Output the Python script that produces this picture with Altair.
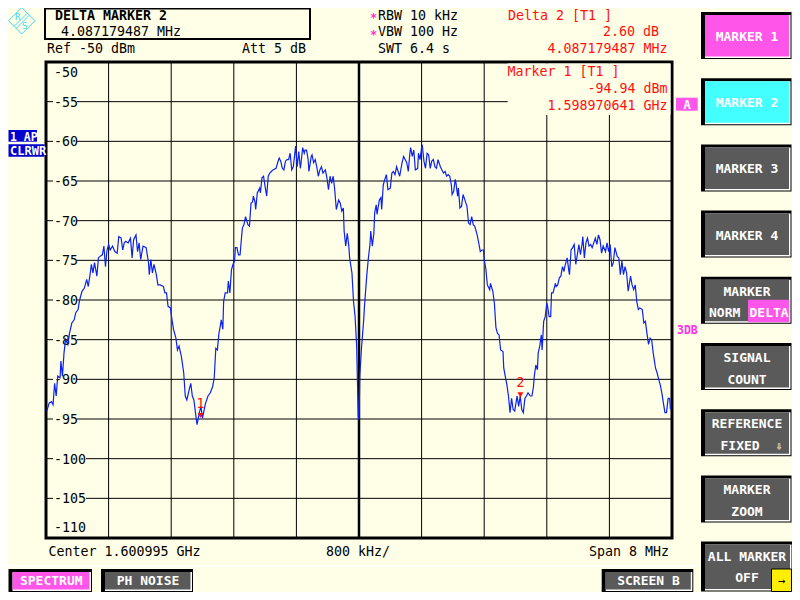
import altair as alt
import pandas as pd

# ---- data ----
# frequency offset from centre (MHz) and level (dBm) of trace 1
trace_freq = [
    -3.99, -3.96, -3.93, -3.91, -3.89, -3.87, -3.85, -3.82, -3.81, -3.79, -3.77, -3.75, -3.72, -3.70,
    -3.67, -3.64, -3.62, -3.59, -3.57, -3.54, -3.51, -3.48, -3.46, -3.44, -3.42, -3.40, -3.38, -3.35,
    -3.33, -3.31, -3.28, -3.26, -3.24, -3.22, -3.20, -3.18, -3.15, -3.12, -3.09, -3.07, -3.04, -3.02,
    -3.00, -2.98, -2.95, -2.92, -2.90, -2.88, -2.85, -2.83, -2.81, -2.79, -2.76, -2.72, -2.69, -2.68,
    -2.66, -2.64, -2.62, -2.59, -2.57, -2.54, -2.50, -2.48, -2.46, -2.44, -2.41, -2.39, -2.37, -2.34,
    -2.32, -2.30, -2.27, -2.24, -2.22, -2.20, -2.17, -2.15, -2.13, -2.11, -2.09, -2.07, -2.04, -2.02,
    -2.00, -1.97, -1.96, -1.93, -1.90, -1.87, -1.85, -1.84, -1.83, -1.81, -1.79, -1.78, -1.76, -1.74,
    -1.73, -1.71, -1.68, -1.67, -1.65, -1.63, -1.61, -1.59, -1.58, -1.56, -1.54, -1.52, -1.50, -1.49,
    -1.47, -1.45, -1.42, -1.40, -1.38, -1.36, -1.35, -1.33, -1.32, -1.30, -1.27, -1.26, -1.24, -1.22,
    -1.20, -1.18, -1.16, -1.14, -1.12, -1.10, -1.06, -1.04, -1.02, -1.00, -0.98, -0.96, -0.94, -0.92,
    -0.90, -0.88, -0.86, -0.84, -0.82, -0.81, -0.79, -0.77, -0.75, -0.74, -0.72, -0.70, -0.69, -0.67,
    -0.65, -0.64, -0.61, -0.60, -0.58, -0.56, -0.54, -0.52, -0.50, -0.48, -0.46, -0.43, -0.41, -0.39,
    -0.37, -0.35, -0.33, -0.31, -0.29, -0.26, -0.24, -0.22, -0.20, -0.19, -0.17, -0.15, -0.13, -0.12,
    -0.09, -0.07, -0.05, -0.03, -0.01, 0.00, 0.01, 0.03, 0.06, 0.07, 0.10, 0.12, 0.14,
    0.15, 0.17, 0.19, 0.20, 0.22, 0.23, 0.26, 0.28, 0.29, 0.31, 0.33, 0.35, 0.37, 0.40,
    0.42, 0.44, 0.46, 0.48, 0.50, 0.52, 0.55, 0.57, 0.59, 0.61, 0.63, 0.65, 0.66, 0.68,
    0.70, 0.72, 0.75, 0.76, 0.78, 0.80, 0.81, 0.83, 0.85, 0.87, 0.89, 0.91, 0.93, 0.95,
    0.97, 0.99, 1.01, 1.04, 1.06, 1.08, 1.10, 1.12, 1.14, 1.16, 1.18, 1.19, 1.21, 1.23,
    1.24, 1.26, 1.27, 1.29, 1.31, 1.33, 1.36, 1.38, 1.40, 1.42, 1.44, 1.46, 1.48, 1.51,
    1.53, 1.55, 1.57, 1.59, 1.60, 1.62, 1.64, 1.67, 1.68, 1.71, 1.73, 1.75, 1.77, 1.79,
    1.81, 1.84, 1.85, 1.89, 1.91, 1.93, 1.95, 1.97, 1.99, 2.02, 2.04, 2.06, 2.08, 2.10,
    2.12, 2.14, 2.16, 2.19, 2.21, 2.23, 2.24, 2.26, 2.28, 2.29, 2.31, 2.33, 2.34, 2.36,
    2.38, 2.40, 2.41, 2.43, 2.45, 2.46, 2.48, 2.51, 2.52, 2.54, 2.56, 2.58, 2.60, 2.62,
    2.63, 2.66, 2.68, 2.69, 2.71, 2.73, 2.75, 2.77, 2.79, 2.81, 2.83, 2.85, 2.86, 2.88,
    2.90, 2.92, 2.94, 2.96, 2.98, 3.00, 3.02, 3.04, 3.06, 3.08, 3.10, 3.12, 3.15, 3.17,
    3.19, 3.21, 3.23, 3.25, 3.27, 3.30, 3.32, 3.34, 3.36, 3.38, 3.40, 3.42, 3.44, 3.47,
    3.49, 3.51, 3.53, 3.55, 3.57, 3.59, 3.62, 3.64, 3.66, 3.68, 3.70, 3.72, 3.74, 3.76,
    3.79, 3.81, 3.83, 3.85, 3.87, 3.89, 3.91, 3.93, 3.95, 3.97, 3.98,
]
trace_level = [
    -94.0, -93.0, -92.8, -93.2, -90.5, -92.1, -89.6, -89.8, -87.7, -89.6, -86.7, -85.0, -85.6, -84.2,
    -82.9, -82.5, -81.6, -81.2, -80.0, -78.9, -78.5, -77.4, -78.3, -77.0, -75.5, -76.6, -75.3, -77.0,
    -74.7, -74.5, -74.3, -73.2, -75.8, -73.7, -73.0, -73.7, -73.2, -73.9, -74.1, -72.0, -72.2, -73.7,
    -72.8, -72.6, -72.8, -72.2, -74.7, -72.4, -71.8, -73.9, -72.8, -74.9, -73.2, -73.4, -75.3, -76.8,
    -74.9, -76.6, -75.5, -76.8, -78.1, -78.1, -78.3, -79.1, -79.1, -80.8, -81.0, -82.5, -83.7, -84.8,
    -86.3, -85.8, -87.1, -89.2, -92.1, -92.6, -91.3, -90.5, -92.1, -92.6, -94.2, -95.7, -94.2, -93.4,
    -94.9, -93.4, -93.0, -92.1, -91.7, -90.9, -89.8, -87.9, -86.1, -86.3, -84.2, -83.7, -82.5, -83.7,
    -80.2, -79.1, -79.1, -77.6, -79.1, -76.2, -75.5, -75.1, -73.4, -73.4, -74.3, -74.3, -72.0, -70.9,
    -70.5, -69.5, -70.5, -70.7, -67.8, -67.6, -66.9, -67.6, -68.6, -66.5, -65.9, -66.5, -64.6, -64.4,
    -65.7, -66.9, -64.4, -64.0, -63.8, -63.6, -63.4, -62.7, -62.1, -62.5, -63.4, -63.6, -62.5, -62.3,
    -62.3, -61.5, -63.6, -63.2, -61.5, -60.6, -63.2, -61.3, -63.4, -62.7, -60.8, -61.5, -61.1, -61.1,
    -62.3, -63.8, -61.9, -61.7, -62.7, -62.3, -63.2, -64.4, -63.6, -63.2, -64.0, -63.6, -64.6, -66.1,
    -64.4, -65.3, -64.4, -66.1, -68.6, -67.4, -67.8, -68.8, -68.4, -71.3, -73.2, -71.6, -73.2, -74.7,
    -76.6, -80.2, -82.1, -85.8, -94.7, -95.1, -89.6, -86.3, -82.5, -80.8, -76.8, -74.7, -73.0,
    -71.3, -73.2, -71.6, -69.0, -68.0, -69.2, -67.4, -67.1, -68.6, -65.5, -64.8, -64.2, -66.1, -65.9,
    -64.0, -63.8, -64.2, -63.2, -63.8, -64.4, -62.7, -61.9, -62.3, -62.7, -63.8, -61.5, -60.8, -61.9,
    -61.1, -63.6, -63.4, -61.5, -62.3, -60.8, -60.6, -62.5, -63.4, -61.5, -61.7, -63.4, -62.5, -62.3,
    -63.2, -63.4, -62.3, -63.2, -63.6, -64.0, -63.8, -64.4, -64.2, -64.4, -65.5, -66.7, -66.3, -64.8,
    -65.3, -66.9, -65.9, -68.4, -68.2, -66.7, -67.6, -68.2, -70.3, -70.5, -69.5, -70.5, -70.7, -71.8,
    -72.8, -73.9, -73.7, -73.7, -74.9, -76.0, -78.1, -78.7, -77.9, -78.9, -80.4, -83.5, -84.2, -84.4,
    -86.3, -86.5, -88.6, -90.7, -92.1, -94.2, -92.4, -93.8, -94.0, -92.1, -93.4, -92.1, -93.8, -94.2,
    -92.4, -92.1, -91.7, -92.1, -92.1, -90.9, -89.6, -88.2, -88.8, -86.7, -85.8, -84.4, -86.3, -82.7,
    -82.1, -80.4, -80.8, -82.1, -82.1, -79.1, -79.1, -77.9, -78.3, -78.1, -77.2, -77.0, -75.8, -76.4,
    -75.8, -74.7, -76.2, -76.8, -73.7, -73.4, -73.0, -75.5, -74.3, -73.0, -74.3, -73.0, -72.0, -74.7,
    -72.8, -72.2, -73.2, -73.0, -73.4, -72.8, -72.2, -73.0, -71.8, -72.4, -74.1, -73.2, -73.9, -72.8,
    -73.9, -73.0, -75.8, -75.3, -73.4, -74.5, -74.7, -76.8, -75.1, -76.8, -75.8, -76.6, -78.9, -77.0,
    -78.1, -78.7, -78.1, -80.2, -81.2, -81.0, -81.2, -82.9, -82.7, -84.2, -85.6, -84.8, -85.0, -86.7,
    -88.6, -89.2, -90.0, -90.7, -91.7, -93.0, -94.2, -94.2, -92.4, -92.4, -93.8,
]

grid_db = [-55, -60, -65, -70, -75, -80, -85, -90, -95, -100, -105]
grid_mhz = [-3.2, -2.4, -1.6, -0.8, 0.8, 1.6, 2.4, 3.2]
centre_mhz = [0.0]

marker_freq = [-2.024359, 2.062820]
marker_level = [-94.94, -92.34]
marker_name = ["1", "2"]

side_labels = [["MARKER 1"], ["MARKER 2"], ["MARKER 3"], ["MARKER 4"], ["MARKER", "NORM DELTA"],
               ["SIGNAL", "COUNT"], ["REFERENCE", "FIXED"], ["MARKER", "ZOOM"], ["ALL MARKER", "OFF"]]
bottom_labels = ["SPECTRUM", "PH NOISE", "SCREEN B"]

# ---- styling ----
MONO = "DejaVu Sans Mono"
BG = "#FFFFE8"
MAG = "#FF55E8"
CYAN = "#44FFFF"
GRAY = "#5A5A5A"
RED = "#FF1010"
TRACE = "#0B22F0"
BOXBLUE = "#0000D0"
LOGO = "#40D8F0"
FS = 13.3

X0, Y0 = 46, 62  # plot origin in screen pixels
one = pd.DataFrame({"k": [0]})

xs = alt.Scale(domain=[-4, 4], nice=False, zero=False)
ys = alt.Scale(domain=[-110, -50], nice=False, zero=False)


def rect(x1, y1, x2, y2, fill, stroke=None, sw=1.0):
    if stroke:
        m = alt.Chart(one).mark_rect(fill=fill, stroke=stroke, strokeWidth=sw)
    else:
        m = alt.Chart(one).mark_rect(fill=fill, strokeWidth=0)
    return m.encode(x=alt.value(x1 - X0), x2=alt.value(x2 - X0),
                    y=alt.value(y1 - Y0), y2=alt.value(y2 - Y0))


def text(s, x, y, color="black", size=FS, bold=False, align="left"):
    return alt.Chart(one).mark_text(
        text=s, font=MONO, fontSize=size, fontWeight="bold" if bold else "normal",
        color=color, align=align, baseline="alphabetic",
    ).encode(x=alt.value(x - X0), y=alt.value(y - Y0))


def line(x1, y1, x2, y2, color, w=1.0):
    return alt.Chart(one).mark_rule(color=color, strokeWidth=w).encode(
        x=alt.value(x1 - X0), x2=alt.value(x2 - X0), y=alt.value(y1 - Y0), y2=alt.value(y2 - Y0))


def button(x1, y1, x2, y2, fill):
    return [rect(x1, y1, x2, y2, "black"),
            rect(x1 + 4, y1 + 3, x2 - 1, y2 - 1, "white"),
            rect(x1 + 4, y1 + 3, x2 - 2.5, y2 - 2.5, fill)]


layers = []

# grid
layers.append(alt.Chart(pd.DataFrame({"db": grid_db})).mark_rule(color="black", strokeWidth=1)
              .encode(y=alt.Y("db:Q", scale=ys, axis=None)))
layers.append(alt.Chart(pd.DataFrame({"mhz": grid_mhz})).mark_rule(color="black", strokeWidth=1)
              .encode(x=alt.X("mhz:Q", scale=xs, axis=None)))
layers.append(alt.Chart(pd.DataFrame({"mhz": centre_mhz})).mark_rule(color="black", strokeWidth=2.5)
              .encode(x=alt.X("mhz:Q", scale=xs, axis=None)))

# level labels sitting on the grid lines
lab_df = pd.DataFrame({"db": grid_db, "lab": [str(v) for v in grid_db]})
for n, x2 in [(3, 31), (4, 40)]:
    layers.append(alt.Chart(lab_df).transform_filter(f"length(datum.lab) == {n}")
                  .transform_calculate(lo="datum.db - 0.75", hi="datum.db + 0.75")
                  .mark_rect(fill=BG, strokeWidth=0)
                  .encode(x=alt.value(7), x2=alt.value(x2),
                          y=alt.Y("lo:Q", scale=ys, axis=None), y2="hi:Q"))
layers.append(alt.Chart(lab_df).mark_text(font=MONO, fontSize=FS, align="left", baseline="alphabetic",
                                          dy=5, color="black")
              .encode(x=alt.value(8), y=alt.Y("db:Q", scale=ys, axis=None), text="lab:N"))
layers.append(text("-50", 54, 77))
layers.append(text("-110", 54, 532))

# marker readout patch over the grid
layers.append(rect(507.7, 63.5, 670.5, 115, BG))

# trace
layers.append(alt.Chart(pd.DataFrame({"mhz": trace_freq, "dbm": trace_level}))
              .mark_line(color=TRACE, strokeWidth=1.2)
              .encode(x=alt.X("mhz:Q", scale=xs, axis=None), y=alt.Y("dbm:Q", scale=ys, axis=None)))

# markers
mk = pd.DataFrame({"mhz": marker_freq, "dbm": marker_level, "name": marker_name})
layers.append(alt.Chart(mk).mark_point(shape="triangle-down", filled=True, color=RED, size=35,
                                       opacity=1, yOffset=-3)
              .encode(x=alt.X("mhz:Q", scale=xs, axis=None), y=alt.Y("dbm:Q", scale=ys, axis=None)))
layers.append(alt.Chart(mk).mark_text(font=MONO, fontSize=FS, color=RED, baseline="alphabetic", dy=-11)
              .encode(x=alt.X("mhz:Q", scale=xs, axis=None), y=alt.Y("dbm:Q", scale=ys, axis=None),
                      text="name:N"))

# header
layers.append(rect(45, 8.5, 310, 39, BG, stroke="black", sw=2))
layers.append(text("DELTA MARKER 2", 55, 19.5, bold=True))
layers.append(text("4.087179487 MHz", 61, 35.5))
layers.append(text("Ref -50 dBm", 47, 53))
layers.append(text("Att  5 dB", 242, 53))
layers.append(text("*", 370, 22, color="#FF33CC", size=12, bold=True))
layers.append(text("RBW 10 kHz", 378, 19.5))
layers.append(text("*", 370, 38.5, color="#FF33CC", size=12, bold=True))
layers.append(text("VBW 100 Hz", 378, 35.5))
layers.append(text("SWT 6.4 s", 378, 52.5))
layers.append(text("Delta 2 [T1 ]", 508, 20, color=RED))
layers.append(text("2.60 dB", 603, 36, color=RED))
layers.append(text("4.087179487 MHz", 547.5, 53, color=RED))
layers.append(text("Marker 1 [T1 ]", 507.5, 76, color=RED))
layers.append(text("-94.94 dBm", 587.5, 93, color=RED))
layers.append(text("1.598970641 GHz", 547.5, 110, color=RED))

# footer
layers.append(text("Center 1.600995 GHz", 48.5, 556))
layers.append(text("800 kHz/", 326, 556))
layers.append(text("Span  8 MHz", 669, 556, align="right"))
layers.append(line(8, 566, 700, 566, "white", 1.5))

# trace / screen indicators
layers.append(rect(8.5, 130, 37, 141.7, BOXBLUE))
layers.append(text("1 AP", 10, 140.5, color="white", size=11.5, bold=True))
layers.append(rect(8.5, 144.3, 44.5, 156.7, BOXBLUE))
layers.append(text("CLRWR", 10, 155.3, color="white", size=12, bold=True))
layers.append(rect(676, 97.7, 697.7, 110.7, MAG))
layers.append(text("A", 687, 109.3, color="white", size=12, bold=True, align="center"))
layers.append(text("3DB", 677, 334, color="#FF30F0", size=11.5, bold=True))

# side soft keys
for i, labels in enumerate(side_labels):
    top = 12 + 66.2 * i
    fill = MAG if i == 0 else CYAN if i == 1 else GRAY
    bottom = 591.5 if i == 8 else top + 47
    layers += button(701, top, 792.5 if i == 8 else 791.5, bottom, fill)
    cx = 747
    if len(labels) == 1:
        layers.append(text(labels[0], cx, top + 29, color="white", size=13, bold=True, align="center"))
    elif labels[1] == "NORM DELTA":
        layers.append(text(labels[0], cx, top + 19, color="white", size=13, bold=True, align="center"))
        layers.append(rect(748, top + 23, 789, top + 45.5, MAG))
        layers.append(text("NORM", 709, top + 40, color="white", size=13, bold=True))
        layers.append(text("DELTA", 749.5, top + 40, color="white", size=13, bold=True))
    elif labels[1] == "FIXED":
        layers.append(text(labels[0], cx, top + 18.5, color="white", size=13, bold=True, align="center"))
        layers.append(text("FIXED", 720.5, top + 41, color="white", size=13, bold=True))
        layers.append(text("\u21e9", 779, top + 41, color="white", size=11, bold=True, align="center"))
    else:
        layers.append(text(labels[0], cx, top + 19, color="white", size=13, bold=True, align="center"))
        layers.append(text(labels[1], cx, top + 40.5, color="white", size=13, bold=True, align="center"))

# yellow page arrow
layers.append(rect(771.5, 569, 791.5, 591.5, "#FFEE00", stroke="black", sw=1))
layers.append(text("\u2192", 781.5, 584.5, color="black", size=12, align="center"))

# bottom hot keys
for lab, (x1, x2) in zip(bottom_labels, [(8.5, 92), (101, 193), (601.7, 693.3)]):
    layers += button(x1, 569, x2, 592, MAG if lab == "SPECTRUM" else GRAY)
    layers.append(text(lab, (x1 + x2) / 2 + 1, 585, color="white", size=13, bold=True, align="center"))

# R&S logo
cx, cy = 21.75, 20.75
layers.append(alt.Chart(one).mark_point(shape="diamond", size=26.5 ** 2, filled=False, color=LOGO,
                                        strokeWidth=1, opacity=1)
              .encode(x=alt.value(cx - X0), y=alt.value(cy - Y0)))
layers.append(line(cx - 7.5, cy + 5.5, cx + 5.5, cy - 7.5, LOGO))
layers.append(line(cx - 5.5, cy + 7.5, cx + 7.5, cy - 5.5, LOGO))
layers.append(text("R", cx - 4, cy - 1, color=LOGO, size=9, align="center"))
layers.append(text("S", cx + 3, cy + 8, color=LOGO, size=9, align="center"))

# 784 x 584 keeps the page inside the 800 x 600 window (8px body margin)
chart = alt.layer(*layers).properties(
    width=626,
    height=476,
    autosize=alt.AutoSizeParams(type="none"),
    padding={"left": 38, "top": 54, "right": 120, "bottom": 54},
    background=BG,
).configure_view(stroke="black", strokeWidth=3)

chart.save("out.html", embed_options={"renderer": "svg", "actions": False})
